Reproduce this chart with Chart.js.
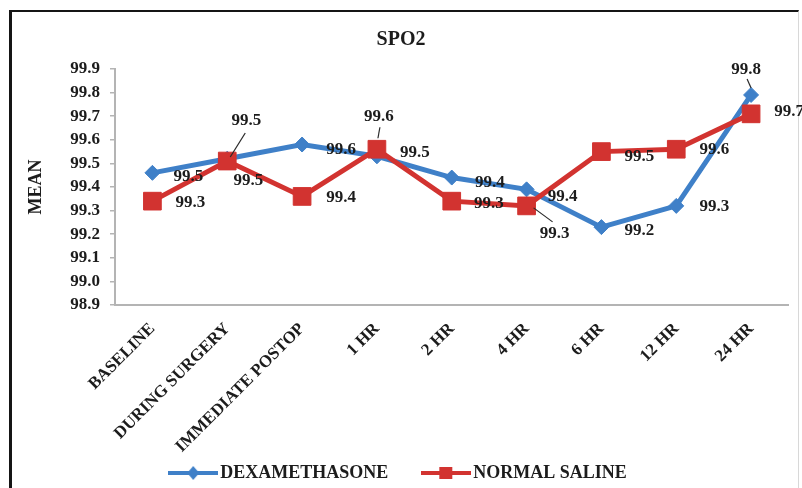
<!DOCTYPE html>
<html>
<head>
<meta charset="utf-8">
<script src="https://cdn.jsdelivr.net/npm/chart.js@4.4.1/dist/chart.umd.min.js"></script>
<style>
  html, body { margin: 0; padding: 0; background: #ffffff; }
  #wrap { position: relative; width: 802px; height: 488px; overflow: hidden; }
  #frame { position: absolute; left: 9px; top: 10px; width: 786px; height: 500px;
           border-top: 2px solid #151515; border-left: 3px solid #151515; border-right: 1px solid #d8d8d8; }
  canvas { position: absolute; left: 0; top: 0; }
</style>
</head>
<body>
<div id="wrap">
  <div id="frame"></div>
  <canvas id="c" width="802" height="488"></canvas>
</div>
<script>
// ---- data ----
const categories = ['BASELINE', 'DURING SURGERY', 'IMMEDIATE POSTOP', '1 HR', '2 HR', '4 HR', '6 HR', '12 HR', '24 HR'];
const dexamethasone = [99.46, 99.52, 99.58, 99.53, 99.44, 99.39, 99.23, 99.32, 99.79];
const normalSaline = [99.34, 99.51, 99.36, 99.56, 99.34, 99.32, 99.55, 99.56, 99.71];
const dexamethasoneLabels = ['99.5', '99.5', '99.6', '99.5', '99.4', '99.4', '99.2', '99.3', '99.8'];
const normalSalineLabels = ['99.3', '99.5', '99.4', '99.6', '99.3', '99.3', '99.5', '99.6', '99.7'];
const yTickValues = [98.9, 99.0, 99.1, 99.2, 99.3, 99.4, 99.5, 99.6, 99.7, 99.8, 99.9];
const seriesNames = ['DEXAMETHASONE', 'NORMAL SALINE'];
const chartTitle = 'SPO2';
const yAxisTitle = 'MEAN';

// ---- styles ----
const BLUE = '#3f80c8';
const RED = '#d23330';
const TEXT = '#1c1c1c';
const AXIS = '#b4b4b4';
const FONT = "'Liberation Serif', 'Times New Roman', serif";

// label placement (pixel offsets from the point, text centre)
const labelOffsets = [
  [[36, 4], [21, 22], [39, 5], [38, -4], [38, 5], [36, 7], [38, 3], [38, 1], [-5, -25]],
  [[38, 1], [19, -40], [39, 1], [2, -33], [37, 2], [28, 28], [38, 5], [38, 0], [38, -2]]
];
// leader lines: [datasetIndex, pointIndex, fromDx, fromDy, toDx, toDy]
const leaders = [
  [0, 8, 0, -7, -4, -16],
  [1, 1, 3, -4, 18, -28],
  [1, 3, 1, -11, 3, -22],
  [1, 5, 7, 2, 26, 16]
];

function makeIcon(color, shape) {
  const cv = document.createElement('canvas');
  cv.width = 50; cv.height = 18;
  const g = cv.getContext('2d');
  g.strokeStyle = color; g.lineWidth = 4;
  g.beginPath(); g.moveTo(0, 9); g.lineTo(50, 9); g.stroke();
  g.fillStyle = color;
  g.beginPath();
  if (shape === 'diamond') {
    g.moveTo(25, 2); g.lineTo(31, 9); g.lineTo(25, 16); g.lineTo(19, 9); g.closePath();
  } else {
    g.rect(18, 3, 13, 12);
  }
  g.fill();
  return cv;
}
const icons = [makeIcon(BLUE, 'diamond'), makeIcon(RED, 'square')];

const labelPlugin = {
  id: 'pointLabels',
  afterLayout(chart) {
    // let the rotated category labels run past the axis box (no clipping)
    chart.scales.x.bottom = chart.height;
  },
  afterDatasetsDraw(chart) {
    const ctx = chart.ctx;
    ctx.save();
    ctx.strokeStyle = '#2a2a2a';
    ctx.lineWidth = 1.2;
    leaders.forEach(([d, i, fx, fy, tx, ty]) => {
      const p = chart.getDatasetMeta(d).data[i];
      ctx.beginPath();
      ctx.moveTo(p.x + fx, p.y + fy);
      ctx.lineTo(p.x + tx, p.y + ty);
      ctx.stroke();
    });
    ctx.font = 'bold 17px ' + FONT;
    ctx.fillStyle = TEXT;
    ctx.textAlign = 'center';
    ctx.textBaseline = 'middle';
    const texts = [dexamethasoneLabels, normalSalineLabels];
    [0, 1].forEach(d => {
      chart.getDatasetMeta(d).data.forEach((p, i) => {
        const [dx, dy] = labelOffsets[d][i];
        ctx.fillText(texts[d][i], p.x + dx, p.y + dy);
      });
    });
    ctx.restore();
  }
};

new Chart(document.getElementById('c'), {
  type: 'line',
  data: {
    labels: categories,
    datasets: [
      {
        label: seriesNames[0],
        data: dexamethasone,
        borderColor: BLUE,
        backgroundColor: BLUE,
        borderWidth: 5,
        pointStyle: 'rectRot',
        pointRadius: 7.5,
        pointBorderWidth: 1,
        tension: 0,
        order: 1
      },
      {
        label: seriesNames[1],
        data: normalSaline,
        borderColor: RED,
        backgroundColor: RED,
        borderWidth: 5,
        pointStyle: 'rect',
        pointRadius: 12.5,
        pointBorderWidth: 1,
        tension: 0,
        order: 0
      }
    ]
  },
  options: {
    responsive: false,
    animation: false,
    events: [],
    layout: { padding: { left: 12, right: 12, top: 0, bottom: -4 } },
    plugins: {
      tooltip: { enabled: false },
      title: {
        display: true,
        text: chartTitle,
        color: TEXT,
        font: { family: FONT, size: 20, weight: 'bold' },
        padding: { top: 28, bottom: 17 }
      },
      legend: {
        display: true,
        position: 'bottom',
        labels: {
          color: TEXT,
          font: { family: FONT, size: 18, weight: 'bold' },
          usePointStyle: true,
          pointStyleWidth: 36,
          padding: 40,
          sort: (a, b) => a.datasetIndex - b.datasetIndex,
          generateLabels(chart) {
            const items = Chart.defaults.plugins.legend.labels.generateLabels(chart);
            items.forEach(it => { it.pointStyle = icons[it.datasetIndex]; it.rotation = 0; });
            return items;
          }
        }
      }
    },
    scales: {
      x: {
        offset: true,
        grid: { display: false },
        border: { display: true, color: AXIS, width: 2 },
        ticks: {
          color: TEXT,
          font: { family: FONT, size: 17, weight: 'bold' },
          minRotation: 45,
          maxRotation: 45,
          autoSkip: false,
          padding: 6
        },
        afterFit(s) { s.height = 119; }
      },
      y: {
        min: 98.9,
        max: 99.9,
        grid: { display: true, drawOnChartArea: false, drawTicks: true, tickLength: 5, color: AXIS, lineWidth: 1.5 },
        border: { display: true, color: AXIS, width: 2 },
        title: {
          display: true,
          text: yAxisTitle,
          color: TEXT,
          font: { family: FONT, size: 18, weight: 'bold' },
          padding: { top: 14, bottom: 0 }
        },
        ticks: {
          color: TEXT,
          font: { family: FONT, size: 17, weight: 'bold' },
          padding: 10,
          callback: v => Number(v).toFixed(1)
        },
        afterBuildTicks(s) { s.ticks = yTickValues.map(v => ({ value: v })); },
        afterFit(s) { s.width = 103; }
      }
    }
  },
  plugins: [labelPlugin]
});
</script>
</body>
</html>
